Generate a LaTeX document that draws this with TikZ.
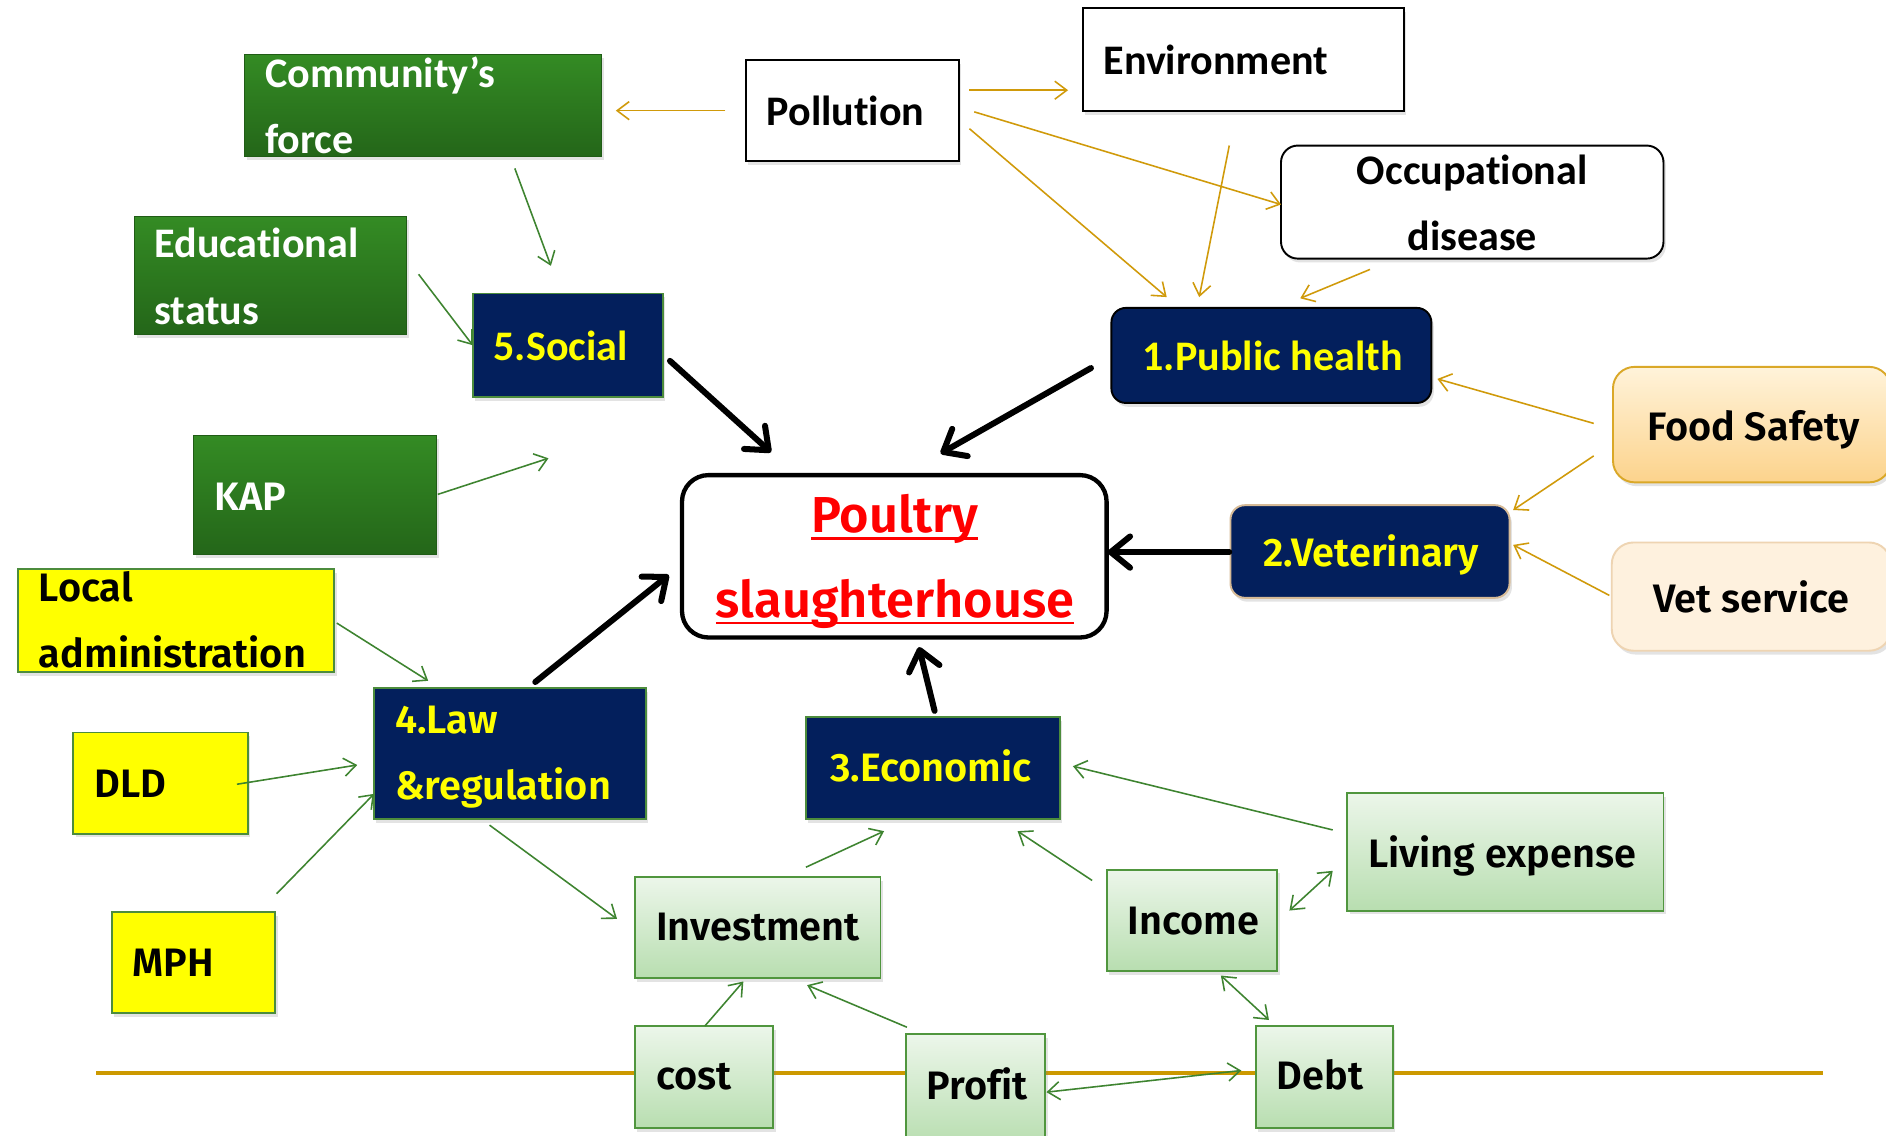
\documentclass[tikz,border=0pt]{standalone}
\usepackage{fontspec}
\setmainfont{Fira Sans}[Ligatures={TeX,NoCommon}, BoldFont={Fira Sans SemiBold}]
\newfontfamily\calfont{Carlito}[Ligatures=NoCommon]
\usetikzlibrary{arrows.meta,shadows}

\definecolor{navy}{RGB}{3,31,92}
\definecolor{txtyellow}{RGB}{255,255,0}
\definecolor{boxyellow}{RGB}{255,255,0}
\definecolor{edgegreen}{RGB}{76,140,60}
\definecolor{leafTop}{RGB}{52,139,36}
\definecolor{leafBot}{RGB}{36,102,25}
\definecolor{mintTop}{RGB}{236,246,234}
\definecolor{mintBot}{RGB}{184,222,176}
\definecolor{mintEdge}{RGB}{80,150,62}
\definecolor{gold}{RGB}{208,154,10}
\definecolor{goldline}{RGB}{204,153,0}
\definecolor{arrowgreen}{RGB}{62,132,48}
\definecolor{peachTop}{RGB}{255,243,218}
\definecolor{peachBot}{RGB}{252,211,140}
\definecolor{peachEdge}{RGB}{218,168,40}
\definecolor{creamFill}{RGB}{254,241,222}
\definecolor{creamEdge}{RGB}{238,212,178}
\definecolor{tanEdge}{RGB}{214,186,150}
\definecolor{hubred}{RGB}{255,0,0}

% underline drawn at a fixed depth below the baseline
\newcommand\hubul[1]{\setbox0=\hbox{#1}\rlap{\rule[-3pt]{\wd0}{1.1pt}}\box0}

\tikzset{
  sz/.style 2 args={minimum width=#1*0.5pt, minimum height=#2*0.5pt},
  shade box/.style={drop shadow={shadow xshift=1pt, shadow yshift=-1.6pt, opacity=0.22}},
  boxbase/.style={inner sep=0pt, outer sep=0pt, shade box},
  plainbox/.style={boxbase, draw=black, line width=0.8pt, fill=white},
  darkleaf/.style={boxbase, draw=leafBot!90!black, line width=0.4pt, top color=leafTop, bottom color=leafBot},
  navybox/.style={boxbase, draw=edgegreen, line width=0.8pt, fill=navy},
  yellowbox/.style={boxbase, draw=edgegreen, line width=0.8pt, fill=boxyellow},
  mintbox/.style={boxbase, draw=mintEdge, line width=0.8pt, top color=mintTop, bottom color=mintBot},
  peachbox/.style={boxbase, draw=peachEdge, line width=0.8pt, top color=peachTop, bottom color=peachBot},
  creambox/.style={boxbase, draw=creamEdge, line width=0.8pt, fill=creamFill},
  hubbox/.style={inner sep=0pt, outer sep=0pt, draw=black, line width=1.8pt, fill=white, rounded corners=11pt},
  calT/.style={font=\calfont\bfseries\fontsize{17.5}{21}\selectfont, inner sep=0pt, anchor=base west},
  firaT/.style={font=\bfseries\fontsize{16.5}{20}\selectfont, inner sep=0pt, anchor=base west},
  hubT/.style={font=\bfseries\fontsize{21}{25}\selectfont, text=hubred, inner sep=0pt, anchor=base},
  thintip/.tip={Straight Barb[length=5pt,width=7.5pt]},
  goldarrow/.style={draw=gold, line width=0.65pt, -thintip},
  greenarrow/.style={draw=arrowgreen, line width=0.65pt, -thintip},
  greenboth/.style={draw=arrowgreen, line width=0.65pt, thintip-thintip},
  mainarrow/.style={draw=black, line width=2.5pt, line cap=round, -{Straight Barb[length=8pt,width=13pt,round]}},
}

\begin{document}
\begin{tikzpicture}[x=0.5pt, y=-0.5pt]
  % page area
  \fill[white] (0,0) rectangle (1568,944);
  \useasboundingbox (0,0) rectangle (1568,944);

  % baseline rule behind the bottom row
  \coordinate (ruleL) at (80,892);
  \coordinate (ruleR) at (1516,892);
  \draw[goldline, line width=1.5pt] (ruleL) -- (ruleR);

  % boxes
  \node[darkleaf, sz={297}{85}] (comm) at (351.5,87.5) {};
  \node[plainbox, sz={177}{84}] (poll) at (708.5,92) {};
  \node[plainbox, sz={267}{85}] (env) at (1033.5,49.5) {};
  \node[plainbox, rounded corners=7pt, sz={318}{94}] (occ) at (1224,168) {};
  \node[darkleaf, sz={226}{98}] (edu) at (225,229) {};
  \node[navybox, sz={158}{86}] (social) at (472,287) {};
  \node[navybox, draw=black, rounded corners=6pt, sz={266}{79}] (ph) at (1057,295.5) {};
  \node[peachbox, rounded corners=9pt, sz={231}{96}] (food) at (1456.5,353) {};
  \node[darkleaf, sz={202}{99}] (kap) at (262,411.5) {};
  \node[hubbox, sz={353}{135}] (hub) at (743.5,462.5) {};
  \node[navybox, draw=tanEdge, rounded corners=6pt, sz={232}{77}] (vet) at (1139,458.5) {};
  \node[creambox, rounded corners=9pt, sz={232}{90}] (vs) at (1456,496) {};
  \node[yellowbox, sz={263}{86}] (local) at (146.5,516) {};
  \node[navybox, sz={226}{109}] (law) at (424,626.5) {};
  \node[yellowbox, sz={145}{84}] (dld) at (133.5,651) {};
  \node[yellowbox, sz={136}{84}] (mph) at (161,800) {};
  \node[navybox, sz={211}{85}] (econ) at (775.5,638.5) {};
  \node[mintbox, sz={263}{98}] (living) at (1251.5,708) {};
  \node[mintbox, sz={204}{84}] (invest) at (630,771) {};
  \node[mintbox, sz={142}{84}] (income) at (991,765) {};
  \node[mintbox, sz={115}{85}] (cost) at (585.5,895.5) {};
  \node[mintbox, sz={116}{92}] (profit) at (811,906) {};
  \node[mintbox, sz={114}{85}] (debt) at (1101,895.5) {};

  % labels
  \node[calT, text=white] (comm-l1) at (220,73) {Community’s};
  \node[calT, text=white] (comm-l2) at (220,128) {force};
  \node[calT] (poll-t) at (637,104) {Pollution};
  \node[calT] (env-t) at (917,62) {Environment};
  \node[calT, anchor=base] (occ-l1) at (1224,153) {Occupational};
  \node[calT, anchor=base] (occ-l2) at (1224,208) {disease};
  \node[calT, text=white] (edu-l1) at (128,214) {Educational};
  \node[calT, text=white] (edu-l2) at (128,270) {status};
  \node[calT, text=txtyellow] (social-t) at (410,300) {5.Social};
  \node[calT, text=txtyellow, anchor=base] (ph-t) at (1058,308) {1.Public health};

  \node[firaT] (food-t) at (1369,366) {Food Safety};
  \node[firaT] (vs-t) at (1374,509) {Vet service};
  \node[firaT] (living-t) at (1137,721) {Living expense};
  \node[firaT] (invest-t) at (545,782) {Investment};
  \node[firaT] (income-t) at (937,777) {Income};
  \node[firaT] (cost-t) at (545,906) {cost};
  \node[firaT] (profit-t) at (770,914) {Profit};
  \node[firaT] (debt-t) at (1061,906) {Debt};
  \node[firaT] (local-l1) at (32,500) {Local};
  \node[firaT] (local-l2) at (32,555) {administration};
  \node[firaT] (dld-t) at (78,663) {DLD};
  \node[firaT] (mph-t) at (110,812) {MPH};
  \node[firaT, text=white] (kap-t) at (178,424) {KAP};
  \node[firaT, text=txtyellow] (law-l1) at (328,610) {4.Law};
  \node[firaT, text=txtyellow] (law-l2) at (328,665) {\&regulation};
  \node[firaT, text=txtyellow, anchor=base] (econ-t) at (774,650) {3.Economic};
  \node[firaT, text=txtyellow, anchor=base] (vet-t) at (1140,471) {2.Veterinary};
  \node[hubT] (hub-l1) at (744,443) {\hubul{Poultry}};
  \node[hubT] (hub-l2) at (744,513) {\hubul{slaughterhouse}};

  % pollution and health links
  \draw[goldarrow] ([shift={(-17,0)}]poll.west) -- ([shift={(12,4.5)}]comm.east);
  \draw[goldarrow] ([shift={(9,-17)}]poll.east) -- ([shift={(-12,25.5)}]env.west);
  \draw[goldarrow] ([shift={(13,1)}]poll.east) -- ([shift={(0,2)}]occ.west);
  \draw[goldarrow] ([shift={(9,15)}]poll.east) -- ([shift={(46,-9)}]ph.north west);
  \draw[goldarrow] ([shift={(-11.5,29)}]env.south) -- ([shift={(-60,-9)}]ph.north);
  \draw[goldarrow] ([shift={(-85,9)}]occ.south) -- ([shift={(24,-8)}]ph.north);
  \draw[goldarrow] ([shift={(-16,-1)}]food.west) -- ([shift={(5,19.5)}]ph.east);
  \draw[goldarrow] ([shift={(-16,26)}]food.west) -- ([shift={(3,4)}]vet.north east);
  \draw[goldarrow] ([shift={(-2,-1)}]vs.west) -- ([shift={(3,-5.5)}]vet.east);

  % social, law and economic links
  \coordinate (kapend) at (456,381);
  \draw[greenarrow] ([shift={(76.5,10)}]comm.south) -- ([shift={(-14,-23)}]social.north);
  \draw[greenarrow] ([shift={(10,-1)}]edu.east) -- (social.west);
  \draw[greenarrow] ([shift={(1,-0.5)}]kap.east) -- (kapend);
  \draw[greenarrow] ([shift={(2,2)}]local.east) -- ([shift={(45,-6)}]law.north west);
  \draw[greenarrow] ([shift={(-9,1)}]dld.east) -- ([shift={(-14,9.5)}]law.west);
  \draw[greenarrow] ([shift={(1,-15)}]mph.north east) -- ([shift={(0,33.5)}]law.west);
  \draw[greenarrow] ([shift={(-17,5)}]law.south) -- ([shift={(-15,-7)}]invest.west);
  \draw[greenarrow] ([shift={(40,-8)}]invest.north) -- ([shift={(-40.5,10)}]econ.south);
  \draw[greenarrow] ([shift={(-12,9)}]income.north west) -- ([shift={(-35,10)}]econ.south east);
  \draw[greenarrow] ([shift={(-12,-18)}]living.west) -- ([shift={(11,-1.5)}]econ.east);
  \draw[greenboth] ([shift={(-12,16)}]living.west) -- ([shift={(10,-8)}]income.east);
  \draw[greenboth] ([shift={(24,4)}]income.south) -- ([shift={(-46,-5)}]debt.north);
  \draw[greenarrow] ([shift={(0.5,0)}]cost.north) -- ([shift={(-12,3)}]invest.south);
  \draw[greenarrow] ([shift={(1,-6)}]profit.north west) -- ([shift={(41,6)}]invest.south);
  \draw[greenboth] ([shift={(1,2)}]profit.east) -- ([shift={(-12,-5.5)}]debt.west);

  % main factors into the slaughterhouse
  \draw[mainarrow] ([shift={(6,13)}]social.east) -- ([shift={(74,-19)}]hub.north west);
  \draw[mainarrow] ([shift={(-17,10.5)}]ph.west) -- ([shift={(38.5,-18)}]hub.north);
  \draw[mainarrow] ([shift={(-1,0.5)}]vet.west) -- ([shift={(1,-3.5)}]hub.east);
  \draw[mainarrow] ([shift={(21,-5)}]law.north) -- ([shift={(-11,15.5)}]hub.west);
  \draw[mainarrow] ([shift={(1.5,-5)}]econ.north) -- ([shift={(20.5,8)}]hub.south);
\end{tikzpicture}
\end{document}
